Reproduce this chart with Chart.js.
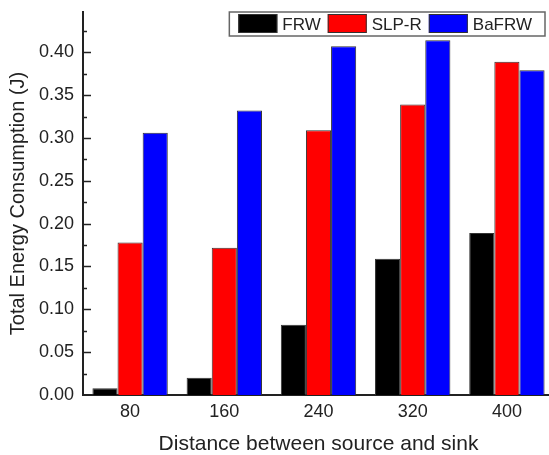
<!DOCTYPE html>
<html>
<head>
<meta charset="utf-8">
<script src="https://cdn.jsdelivr.net/npm/chart.js@4"></script>
<style>
  html, body { margin: 0; padding: 0; overflow: hidden; background: #fff; }
  #wrap { position: relative; width: 560px; height: 455px; }
</style>
</head>
<body>
<div id="wrap"><canvas id="energyChart"></canvas></div>
<script>
const distances = ['80', '160', '240', '320', '400'];
const frw = [0.008, 0.020, 0.082, 0.159, 0.189];
const slpR = [0.178, 0.172, 0.309, 0.339, 0.389];
const baFrw = [0.306, 0.332, 0.407, 0.414, 0.379];
const yStep = 0.05;
const yMax = 0.447;

const FONT = '"Liberation Sans", Arial, sans-serif';
const INK = '#222';

// inward major/minor ticks on the y axis, and the boxed legend inside the plot
const axisMarks = {
    id: 'axisMarks',
    afterDraw(chart) {
        const { ctx, chartArea, scales: { y } } = chart;
        ctx.save();
        ctx.strokeStyle = INK;
        ctx.lineWidth = 1.5;
        const tick = (v, len) => {
            const py = Math.round(y.getPixelForValue(v)) + 0.5;
            ctx.beginPath();
            ctx.moveTo(chartArea.left, py);
            ctx.lineTo(chartArea.left + len, py);
            ctx.stroke();
        };
        y.ticks.forEach(t => {
            if (t.value > 0) tick(t.value, 8);
            const mid = t.value + yStep / 2;
            if (mid < y.max) tick(mid, 4);
        });

        // legend
        ctx.font = '17px ' + FONT;
        ctx.textBaseline = 'middle';
        const sets = chart.data.datasets;
        const sw = 39, sh = 19, padL = 9, gapT = 5, gapN = 7, padR = 13, boxH = 24;
        let w = padL + padR;
        sets.forEach((ds, i) => {
            w += sw + gapT + ctx.measureText(ds.label).width + (i < sets.length - 1 ? gapN : 0);
        });
        const bx = chartArea.right - 9 - w;
        const by = chartArea.top;
        ctx.fillStyle = '#fff';
        ctx.fillRect(bx, by, w, boxH);
        ctx.strokeStyle = '#666';
        ctx.lineWidth = 1.5;
        ctx.strokeRect(bx, by, w, boxH);
        let x = bx + padL;
        sets.forEach(ds => {
            ctx.fillStyle = ds.backgroundColor;
            ctx.fillRect(x, by + 2, sw, sh);
            ctx.strokeStyle = '#333';
            ctx.lineWidth = 1;
            ctx.strokeRect(x + 0.5, by + 2.5, sw - 1, sh - 1);
            x += sw + gapT;
            ctx.fillStyle = INK;
            ctx.fillText(ds.label, x, by + boxH / 2 + 1);
            x += ctx.measureText(ds.label).width + gapN;
        });
        ctx.restore();
    }
};

new Chart(document.getElementById('energyChart').getContext('2d'), {
    type: 'bar',
    data: {
        labels: distances,
        datasets: [
            { label: 'FRW', data: frw, backgroundColor: '#000000' },
            { label: 'SLP-R', data: slpR, backgroundColor: '#ff0000' },
            { label: 'BaFRW', data: baFrw, backgroundColor: '#0000ff' }
        ]
    },
    options: {
        responsive: true,
        maintainAspectRatio: false,
        animation: false,
        layout: { padding: { top: 12, right: 6, left: 0, bottom: 0 } },
        datasets: {
            bar: {
                categoryPercentage: 0.8,
                barPercentage: 1.0,
                borderWidth: 1,
                borderColor: '#333'
            }
        },
        plugins: {
            legend: { display: false },
            tooltip: { enabled: false }
        },
        scales: {
            x: {
                grid: { display: false, drawTicks: false },
                border: { display: true, color: INK, width: 2 },
                ticks: { color: INK, padding: 6, font: { family: FONT, size: 18 } },
                title: {
                    display: true,
                    text: 'Distance between source and sink',
                    color: INK,
                    padding: { top: 0, bottom: 0 },
                    font: { family: FONT, size: 21, lineHeight: 1 }
                },
                afterFit: s => {
                    s.height = 60;
                    s.paddingLeft = 0;
                    s.paddingRight = 0;
                }
            },
            y: {
                min: 0,
                max: yMax,
                grid: { display: false, drawTicks: false },
                border: { display: true, color: INK, width: 2 },
                ticks: {
                    stepSize: yStep,
                    includeBounds: false,
                    color: INK,
                    padding: 9,
                    font: { family: FONT, size: 18 },
                    callback: v => v.toFixed(2)
                },
                title: {
                    display: true,
                    text: 'Total Energy Consumption (J)',
                    color: INK,
                    padding: { top: 8, bottom: 0 },
                    font: { family: FONT, size: 20, lineHeight: 1 }
                },
                afterFit: s => {
                    s.width = 83;
                    s.paddingTop = 0;
                    s.paddingBottom = 0;
                }
            }
        }
    },
    plugins: [axisMarks]
});
</script>
</body>
</html>
